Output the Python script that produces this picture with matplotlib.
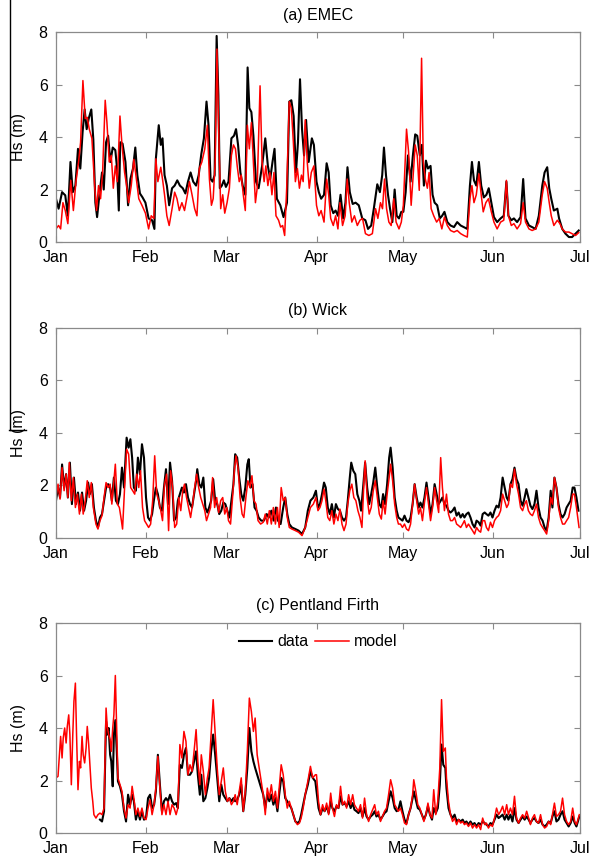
import numpy as np
import pandas as pd
import matplotlib
matplotlib.use('Agg')
import matplotlib.pyplot as plt
import matplotlib.dates as mdates
from matplotlib.lines import Line2D

plt.rcParams['font.family'] = ['Liberation Sans', 'DejaVu Sans']

# Significant wave height (m).
# Times are days since 1 January; each series has its own day list.

# (a) EMEC
emec_data_day = [0, 0.9, 2.1, 3.2, 4.1, 5.0, 5.8, 6.7, 7.6, 8.4, 9.2, 9.9, 10.6, 11.3, 12.2, 12.9, 13.6, 14.2, 15.0, 15.9,
                 16.5, 17.3, 18.0, 18.8, 19.6, 20.5, 21.1, 21.7, 22.2, 23.0, 24.0, 24.9, 25.7, 26.6, 27.4, 28.1, 29.0, 29.9, 30.9, 32.0,
                 33.2, 34.0, 34.5, 35.5, 36.2, 36.8, 37.5, 38.3, 39.1, 40.1, 41.0, 41.9, 42.8, 43.8, 44.7, 45.6, 46.5, 47.4, 48.4, 49.3,
                 50.2, 51.1, 52.0, 52.7, 53.4, 54.1, 54.8, 55.5, 56.1, 56.6, 57.3, 58.0, 58.7, 59.6, 60.6, 61.5, 62.2, 62.9, 63.7, 64.5,
                 65.4, 66.2, 66.8, 67.5, 68.2, 69.1, 70.0, 71.2, 72.3, 73.2, 74.0, 74.8, 75.5, 76.3, 77.5, 78.6, 79.8, 80.6, 81.3, 82.1,
                 82.9, 83.6, 84.3, 85.0, 85.7, 86.4, 87.3, 88.4,
                 89.1, 90.0, 90.8, 91.6, 92.6, 93.5, 94.2, 94.9, 95.8, 96.6, 97.4, 98.3, 99.2, 100.0, 100.7, 101.5, 102.5, 103.5, 104.6, 105.8,
                 106.9, 107.8, 108.9, 109.8, 111.0, 111.9, 112.7, 113.3, 114.0, 114.7, 115.4, 116.2, 117.0, 117.7, 118.5, 119.3, 120.0, 120.8, 121.6, 122.5,
                 123.3, 124.1, 124.8, 125.7, 126.4, 127.1, 127.8, 128.5, 129.4, 130.1, 130.8, 131.7, 132.6, 133.4, 134.2, 135.2, 136.3, 137.5, 138.6, 139.8,
                 140.9, 142.1, 143.0, 143.7, 144.4, 145.2, 146.1, 146.9, 147.8, 148.7, 149.5, 150.4, 151.3, 152.4, 153.6, 154.7, 155.6, 156.3, 157.3, 158.2,
                 159.3, 160.5, 161.4, 162.2, 163.4, 164.5, 165.7, 166.8, 168.0, 168.8, 169.7, 170.4, 171.1, 172.0, 173.2, 173.8, 174.9, 176.0, 177.2, 178.3,
                 179.5, 180.6]
emec_data = [1.65, 1.27, 1.9, 1.78, 1.0, 3.05, 1.9, 2.15, 3.55, 2.8, 4.2, 5.05, 4.3, 4.7, 5.05, 3.9, 1.5, 0.95, 1.8, 2.65,
             2.0, 3.8, 4.05, 3.05, 3.6, 3.5, 2.8, 1.2, 3.8, 3.75, 3.05, 1.4, 2.4, 2.8, 3.6, 2.55, 1.85, 1.7, 1.5, 0.9,
             0.83, 0.5, 3.17, 4.45, 3.7, 3.95, 2.55, 2.15, 1.4, 2.05, 2.15, 2.35, 2.15, 2.05, 1.85, 2.3, 2.65, 2.3, 2.15, 2.55,
             3.35, 3.95, 5.35, 4.45, 2.4, 2.3, 2.55, 7.85, 5.6, 2.05, 2.15, 2.35, 2.1, 2.3, 3.95, 4.05, 4.3, 3.7, 2.65, 2.15,
             1.8, 6.65, 5.1, 4.95, 4.05, 2.3, 2.05, 2.9, 3.95, 2.9, 2.4, 3.05, 3.55, 1.65, 1.4, 0.95, 1.5, 5.35, 5.4, 4.8,
             2.65, 3.8, 6.2, 4.3, 3.3, 4.65, 3.05, 3.95,
             3.7, 2.3, 1.9, 1.65, 1.8, 3.0, 2.65, 1.4, 1.1, 1.2, 1.0, 1.8, 0.9, 1.5, 2.85, 1.9, 1.45, 1.5, 1.4, 0.9,
             0.83, 0.5, 0.63, 1.27, 2.2, 1.9, 2.55, 3.6, 2.55, 1.8, 1.27, 0.76, 2.0, 1.0, 0.9, 1.15, 1.15, 1.9, 3.3, 2.3,
             3.3, 4.1, 4.05, 3.3, 3.7, 2.15, 3.1, 2.8, 2.9, 1.8, 1.5, 1.4, 0.9, 1.0, 1.15, 0.76, 0.63, 0.57, 0.76, 0.63,
             0.57, 0.5, 2.15, 3.05, 2.35, 2.15, 3.05, 2.15, 1.7, 1.8, 2.05, 1.5, 0.95, 0.76, 0.9, 1.0, 2.3, 1.0, 0.83, 0.9,
             0.76, 0.95, 2.4, 0.9, 0.63, 0.57, 0.5, 1.0, 2.15, 2.65, 2.85, 2.05, 1.65, 1.2, 1.27, 0.9, 0.5, 0.32, 0.19, 0.19,
             0.32, 0.44]

emec_model_day = [0, 0.9, 1.6, 2.4, 3.2, 4.1, 5.1, 6.0, 6.9, 7.8, 8.5, 9.3, 10.1, 10.8, 11.5, 12.4, 13.4, 14.0, 14.7, 15.4,
                  16.1, 17.0, 17.6, 18.4, 19.1, 19.8, 20.5, 21.2, 22.1, 22.8, 23.7, 24.4, 25.1, 26.0, 26.9, 27.6, 28.6, 29.7, 30.9, 32.0,
                  32.9, 33.8, 34.5, 35.2, 36.2, 36.8, 37.5, 38.3, 39.1, 40.1, 41.0, 41.8, 42.6, 43.5, 44.4, 45.4, 46.1, 47.0, 47.9, 48.7,
                  49.5, 50.4, 51.4, 52.3, 53.0, 53.7, 54.3, 55.0, 55.6, 56.2, 56.9, 57.6, 58.3, 59.1, 59.9, 60.6, 61.3, 62.0, 62.6, 63.3,
                  64.0, 64.7, 65.4, 66.1, 66.8, 67.5, 68.2, 68.9, 69.5, 70.5, 71.2, 71.9, 72.5, 73.2, 73.9, 74.6, 75.3, 76.0, 76.9, 77.6,
                  78.3, 79.0, 79.7, 80.6, 81.3, 82.0, 82.7, 83.4, 84.1, 84.8, 85.4, 86.1, 86.8, 87.5, 88.2,
                  89.1, 90.0, 90.8, 91.6, 92.6, 93.5, 94.2, 94.9, 95.8, 96.6, 97.4, 98.1, 99.0, 99.9, 100.6, 101.3, 102.2, 103.1, 104.1, 105.0,
                  105.9, 106.9, 108.1, 109.3, 110.4, 111.2, 112.1, 112.8, 113.5, 114.2, 115.0, 115.8, 116.7, 117.5, 118.5, 119.3, 120.0, 121.1, 121.8, 122.7,
                  123.4, 124.1, 124.8, 125.5, 126.3, 126.9, 127.6, 128.3, 128.9, 129.6, 130.5, 131.5, 132.4, 133.3, 134.2, 135.2, 136.3, 137.5, 138.6, 139.8,
                  140.9, 142.1, 143.0, 143.7, 144.4, 145.2, 146.1, 146.9, 147.6, 148.5, 149.4, 150.4, 151.3, 152.4, 153.6, 154.7, 155.6, 156.3, 157.3, 158.2,
                  159.3, 160.5, 161.4, 162.2, 163.4, 164.5, 165.7, 166.8, 168.0, 168.8, 169.7, 170.4, 171.1, 172.0, 173.2, 174.1, 174.9, 176.0, 177.2, 178.3,
                  179.5, 180.6]
emec_model = [0.5, 0.63, 0.5, 1.5, 1.2, 0.7, 2.35, 1.2, 2.3, 3.05, 3.8, 6.15, 4.7, 4.75, 4.3, 3.95, 2.05, 1.2, 2.15, 1.65,
              2.65, 5.4, 4.55, 3.05, 3.3, 2.05, 2.9, 2.3, 4.8, 3.7, 2.65, 2.15, 1.5, 2.15, 3.15, 2.55, 1.65, 1.4, 1.1, 0.5,
              1.0, 0.9, 3.17, 2.3, 2.85, 2.4, 1.8, 1.0, 0.63, 1.27, 1.9, 1.65, 1.2, 1.5, 1.2, 1.8, 2.3, 1.8, 1.27, 1.0,
              2.8, 3.05, 3.55, 4.45, 2.4, 1.4, 1.65, 3.05, 7.35, 4.3, 1.27, 1.8, 1.1, 1.5, 2.05, 3.3, 3.7, 3.55, 2.9, 2.3,
              2.55, 1.8, 1.2, 4.45, 3.55, 4.55, 3.05, 1.5, 2.05, 5.95, 3.05, 2.3, 2.9, 2.15, 2.65, 1.8, 2.65, 1.0, 0.83, 0.57,
              0.63, 0.25, 2.05, 5.35, 5.1, 3.8, 2.3, 2.8, 2.05, 2.55, 2.3, 4.65, 3.05, 2.05, 2.65,
              2.9, 1.4, 1.0, 1.2, 0.76, 2.4, 1.8, 0.9, 0.63, 1.0, 0.5, 1.5, 0.63, 1.0, 2.4, 1.5, 0.76, 1.0, 0.63, 0.83,
              0.9, 0.32, 0.25, 0.32, 1.27, 0.9, 1.5, 1.27, 2.4, 1.27, 0.76, 0.63, 1.65, 0.76, 0.5, 0.76, 1.4, 4.3, 3.45, 1.4,
              2.55, 3.7, 3.3, 1.97, 7.0, 3.05, 2.4, 2.05, 2.65, 1.27, 1.0, 0.76, 0.9, 0.5, 0.95, 0.63, 0.44, 0.38, 0.44, 0.32,
              0.25, 0.19, 1.65, 2.15, 1.5, 1.8, 2.6, 1.8, 1.15, 1.5, 1.65, 1.15, 0.76, 0.5, 0.76, 0.83, 2.35, 1.0, 0.63, 0.7,
              0.5, 0.7, 1.5, 0.76, 0.5, 0.44, 0.5, 0.76, 1.8, 2.3, 2.05, 1.5, 1.0, 0.63, 0.83, 0.7, 0.5, 0.38, 0.38, 0.32,
              0.25, 0.36]

# (b) Wick
wick_data_day = [0, 0.7, 1.4, 2.1, 2.8, 3.5, 4.1, 4.8, 5.5, 6.2, 6.9, 7.6, 8.3, 9.0, 9.7, 10.4, 11.1, 11.7, 12.4, 13.1,
                 13.8, 14.5, 15.2, 15.9, 16.6, 17.3, 18.0, 18.7, 19.3, 20.0, 20.7, 21.4, 22.1, 22.8, 23.5, 24.4, 25.1, 25.7, 26.3, 26.9,
                 27.6, 28.3, 29.0, 29.7, 30.4, 31.1, 31.8, 32.5, 33.2, 33.8, 34.5, 35.2, 35.9, 36.6, 37.3, 38.0, 38.7, 39.4, 40.1, 40.8,
                 41.5, 42.1, 42.8, 43.5, 44.2, 44.9, 45.6, 46.3, 47.0, 47.7, 48.4, 48.8, 49.5, 50.2, 50.9, 51.6, 52.3, 52.9, 53.6, 54.3,
                 55.0, 55.7, 56.4, 57.1, 57.8, 58.5, 59.2, 59.9, 60.6, 61.3, 61.9, 62.6, 63.3, 64.0, 64.7, 65.4, 66.1, 66.6, 67.2, 67.9,
                 68.6, 69.3, 70.0, 70.9, 71.8, 72.8, 73.5, 74.4, 75.2, 76.0, 76.7, 77.6, 78.5, 79.2, 79.9, 80.6, 81.5, 82.7, 83.8, 85.0,
                 86.1, 87.0, 87.9, 88.9, 89.8,
                 90.5, 91.2, 91.9, 92.6, 93.2, 93.9, 94.6, 95.3, 96.0, 96.7, 97.4, 98.1, 98.8, 99.5, 100.2, 100.8, 101.5, 102.0, 102.7, 103.4,
                 104.1, 104.8, 105.4, 106.1, 106.8, 107.5, 108.2, 108.9, 109.6, 110.3, 111.0, 111.7, 112.4, 113.0, 113.7, 114.4, 115.1, 115.6, 116.3, 117.0,
                 117.7, 118.3, 119.0, 119.7, 120.4, 121.1, 121.8, 122.5, 123.2, 123.9, 124.6, 125.3, 125.9, 126.6, 127.3, 128.0, 128.7, 129.4, 130.1, 130.8,
                 131.5, 132.2, 132.9, 133.5, 134.2, 134.9, 135.6, 136.3, 137.0, 137.7, 138.4, 139.1, 139.8, 140.5, 141.1, 141.8, 142.5, 143.2, 143.9, 144.6,
                 145.3, 146.0, 146.7, 147.4, 148.1, 148.7, 149.4, 150.1, 150.8, 151.5, 152.2, 152.9, 153.6, 154.3, 155.0, 155.7, 156.3, 157.0, 157.7, 158.4,
                 159.1, 159.8, 160.5, 161.2, 161.9, 162.5, 163.2, 163.9, 164.6, 165.3, 166.0, 166.7, 167.4, 168.1, 168.8, 169.5, 170.2, 170.9, 171.5, 172.2,
                 172.9, 173.6, 174.3, 175.0, 175.7, 176.4, 177.1, 177.8, 178.5, 179.1, 179.8, 180.5]
wick_data = [1.42, 1.92, 1.54, 2.8, 1.92, 2.43, 1.54, 2.87, 1.29, 2.3, 1.29, 1.73, 1.04, 1.73, 1.04, 1.42, 2.11, 1.67, 2.05, 1.16,
             0.66, 0.4, 0.78, 0.91, 1.42, 1.92, 2.05, 1.92, 1.42, 2.3, 1.42, 1.29, 1.67, 2.68, 1.92, 3.82, 3.44, 3.76, 3.06, 1.92,
             1.8, 3.06, 2.43, 3.57, 3.06, 1.54, 0.78, 0.66, 0.91, 1.42, 1.92, 1.67, 1.16, 1.04, 1.92, 2.62, 1.29, 2.87, 2.18, 0.66,
             0.78, 1.42, 1.67, 1.92, 1.73, 2.05, 1.54, 1.29, 1.16, 1.67, 2.18, 2.62, 2.05, 1.92, 2.3, 1.16, 0.97, 1.16, 1.42, 2.24,
             1.42, 1.29, 0.91, 1.04, 1.35, 1.29, 1.04, 0.78, 1.42, 2.05, 3.19, 3.06, 2.3, 1.67, 1.42, 1.92, 2.8, 3.0, 1.92, 2.05,
             1.16, 1.04, 0.78, 0.66, 0.66, 0.91, 0.78, 1.04, 0.66, 1.16, 0.66, 0.53, 1.16, 1.54, 0.91, 0.53, 0.4, 0.34, 0.28, 0.15,
             0.4, 1.04, 1.42, 1.54, 1.8,
             1.16, 1.29, 1.67, 2.11, 1.92, 1.16, 0.91, 1.29, 0.78, 1.29, 1.1, 1.04, 0.78, 0.66, 0.78, 1.42, 2.3, 2.87, 2.56, 2.43,
             1.67, 1.42, 1.04, 1.92, 2.87, 1.92, 1.29, 1.67, 2.11, 2.68, 1.92, 1.29, 1.16, 1.67, 1.29, 2.05, 3.06, 3.44, 2.68, 1.54,
             1.04, 0.78, 0.72, 0.66, 0.85, 0.66, 0.6, 0.78, 1.29, 2.05, 1.54, 1.16, 1.35, 1.16, 1.54, 2.11, 1.54, 0.91, 1.29, 2.05,
             1.67, 1.29, 1.42, 1.54, 1.29, 1.23, 1.04, 0.97, 1.04, 1.16, 0.85, 0.97, 0.78, 0.91, 0.78, 0.91, 0.97, 0.78, 0.53, 0.4,
             0.66, 0.6, 0.47, 0.91, 0.97, 0.91, 0.85, 0.97, 0.78, 1.04, 1.23, 1.16, 1.54, 2.3, 1.92, 1.54, 1.42, 2.05, 2.24, 2.68,
             2.24, 2.05, 1.42, 1.23, 1.54, 1.86, 1.54, 1.23, 1.1, 1.29, 1.8, 1.16, 0.78, 0.66, 0.4, 0.28, 0.78, 1.8, 1.16, 2.3,
             1.92, 1.29, 0.91, 0.78, 0.91, 1.16, 1.29, 1.42, 1.92, 1.92, 1.54, 1.04]

wick_model_day = [0, 0.7, 1.4, 2.1, 2.8, 3.5, 4.1, 4.6, 5.3, 6.0, 6.7, 7.4, 8.1, 8.8, 9.4, 10.1, 10.8, 11.5, 12.2, 12.9,
                  13.8, 14.5, 15.2, 15.9, 16.6, 17.3, 18.0, 18.7, 19.3, 20.0, 20.5, 21.2, 21.9, 22.6, 23.0, 23.7, 24.4, 25.1, 25.8, 26.5,
                  27.2, 27.9, 28.6, 29.2, 29.9, 30.6, 31.3, 32.0, 32.7, 33.4, 34.1, 34.8, 35.5, 36.2, 36.8, 37.5, 38.2, 38.9, 39.6, 40.3,
                  41.0, 41.7, 42.4, 43.1, 43.8, 44.4, 45.1, 45.8, 46.5, 47.2, 47.9, 48.6, 49.3, 50.0, 50.7, 51.4, 52.0, 52.7, 53.4, 54.1,
                  54.8, 55.5, 56.2, 56.9, 57.6, 58.3, 59.0, 59.6, 60.3, 61.0, 61.7, 62.2, 62.9, 63.6, 64.3, 64.9, 65.6, 66.3, 67.0, 67.7,
                  68.4, 69.1, 69.8, 70.7, 71.6, 72.3, 73.0, 73.7, 74.4, 75.1, 75.8, 76.5, 77.1, 77.8, 78.5, 79.2, 79.9, 80.6, 81.5, 82.7,
                  83.8, 85.0, 86.1, 87.0, 87.9, 88.9, 89.8,
                  90.5, 91.2, 91.9, 92.6, 93.2, 93.9, 94.6, 95.3, 96.0, 96.7, 97.4, 98.1, 98.8, 99.5, 100.2, 100.8, 101.5, 102.2, 102.9, 103.6,
                  104.3, 105.0, 105.7, 106.4, 106.8, 107.5, 108.2, 108.9, 109.6, 110.3, 111.0, 111.7, 112.4, 113.0, 113.7, 114.4, 115.1, 115.6, 116.3, 117.0,
                  117.7, 118.3, 119.0, 119.7, 120.4, 121.1, 121.8, 122.5, 123.2, 123.9, 124.6, 125.3, 125.9, 126.6, 127.3, 128.0, 128.7, 129.4, 130.1, 130.8,
                  131.5, 132.2, 132.9, 133.5, 134.2, 134.9, 135.6, 136.3, 137.0, 137.7, 138.4, 139.1, 139.8, 140.5, 141.1, 141.8, 142.5, 143.2, 143.9, 144.6,
                  145.3, 146.0, 146.7, 147.4, 148.1, 148.7, 149.4, 150.1, 150.8, 151.5, 152.2, 152.9, 153.6, 154.3, 155.0, 155.7, 156.3, 157.0, 157.7, 158.4,
                  159.1, 159.8, 160.5, 161.2, 161.9, 162.5, 163.2, 163.9, 164.6, 165.3, 166.0, 166.7, 167.4, 168.1, 168.8, 169.5, 170.2, 170.9, 171.5, 172.2,
                  172.9, 173.6, 174.3, 175.0, 175.7, 176.4, 177.1, 177.8, 178.5, 179.1, 179.8, 180.7]
wick_model = [1.54, 2.05, 1.48, 2.68, 1.8, 2.43, 1.54, 2.87, 1.42, 2.3, 1.16, 1.67, 0.91, 1.67, 0.91, 1.42, 2.18, 1.54, 2.11, 1.16,
              0.53, 0.34, 0.66, 0.85, 1.54, 2.11, 1.92, 2.05, 1.29, 2.18, 2.81, 1.29, 1.16, 0.66, 0.34, 1.92, 3.38, 3.19, 1.92, 1.8,
              1.67, 2.43, 1.92, 2.56, 1.16, 0.66, 0.53, 0.4, 0.53, 1.42, 3.13, 1.67, 1.42, 1.04, 0.66, 2.05, 2.43, 0.28, 2.56, 1.92,
              0.4, 0.53, 1.54, 1.04, 1.8, 2.05, 1.54, 1.16, 0.78, 1.29, 1.92, 2.43, 1.92, 1.54, 1.29, 1.04, 0.66, 0.91, 1.16, 2.3,
              1.16, 1.54, 0.97, 1.42, 1.54, 0.91, 1.16, 0.66, 0.53, 1.54, 2.68, 3.13, 2.68, 1.54, 0.91, 0.78, 1.54, 2.18, 1.92, 2.37,
              1.42, 1.29, 0.66, 0.53, 0.6, 0.91, 0.53, 1.04, 0.53, 1.16, 0.53, 1.16, 0.4, 1.92, 1.42, 1.54, 0.78, 0.4, 0.34, 0.28,
              0.22, 0.09, 0.4, 0.78, 1.16, 1.29, 1.54,
              1.04, 1.16, 1.42, 1.86, 1.42, 0.78, 0.66, 1.04, 0.53, 0.91, 0.66, 1.1, 0.53, 0.28, 0.53, 1.29, 1.8, 2.05, 1.54, 1.42,
              1.04, 0.78, 0.4, 2.18, 2.94, 1.54, 0.91, 1.16, 1.8, 2.18, 1.54, 0.91, 0.72, 1.42, 0.91, 1.67, 2.3, 2.81, 2.18, 1.29,
              0.78, 0.53, 0.53, 0.4, 0.53, 0.34, 0.28, 0.53, 1.29, 2.05, 1.42, 0.91, 1.16, 0.66, 1.35, 1.92, 1.29, 0.66, 1.16, 1.92,
              1.42, 0.97, 3.06, 1.92, 1.04, 1.67, 0.91, 0.66, 0.66, 0.78, 0.53, 0.47, 0.4, 0.53, 0.66, 0.4, 0.53, 0.4, 0.28, 0.15,
              0.4, 0.28, 0.22, 0.66, 0.66, 0.4, 0.28, 0.6, 0.4, 0.66, 0.78, 0.85, 1.04, 1.67, 1.42, 1.16, 1.29, 2.05, 1.92, 2.62,
              2.05, 1.67, 1.16, 1.04, 1.29, 1.42, 1.04, 0.91, 0.85, 1.04, 1.29, 0.78, 0.53, 0.4, 0.28, 0.15, 0.66, 1.54, 1.29, 2.3,
              1.92, 1.16, 0.78, 0.53, 0.53, 0.66, 0.78, 1.16, 1.67, 1.67, 1.16, 0.4]

# (c) Pentland Firth (no measurements before mid-January)
pf_data_day = [15.2, 15.9, 16.6, 17.3, 17.7, 18.2, 18.7, 19.1, 19.6, 20.0, 20.5, 21.0, 21.4, 22.1, 22.8, 23.5, 24.2, 24.9, 25.6, 26.3,
               26.9, 27.6, 28.3, 29.0, 29.7, 30.4, 31.1, 31.8, 32.5, 33.2, 33.9, 34.5, 35.2, 35.9, 36.6, 37.3, 38.0, 38.7, 39.4, 40.1,
               40.8, 41.5, 42.1, 42.8, 43.5, 44.2, 44.9, 45.6, 46.3, 47.0, 47.7, 48.4, 49.0, 49.7, 50.2, 50.9, 51.6, 52.3, 52.9, 53.6,
               54.3, 55.0, 55.7, 56.4, 57.1, 57.8, 58.5, 59.2, 59.9, 60.6, 61.3, 61.9, 62.6, 63.3, 64.0, 64.7, 65.4, 66.1, 66.8, 67.5,
               68.2, 68.8, 69.5, 70.2, 70.9, 71.6, 72.3, 73.0, 73.7, 74.4, 75.1, 75.8, 76.5, 77.1, 77.8, 78.5, 79.2, 79.9, 80.6, 81.3,
               82.0, 82.7, 83.4, 84.1, 84.7, 85.4, 86.1, 87.0, 87.9, 88.7, 89.6,
               90.7, 91.4, 92.1, 92.8, 93.5, 94.2, 94.9, 95.5, 96.2, 96.9, 97.6, 98.3, 99.0, 99.7, 100.4, 101.1, 101.8, 102.5, 103.1, 103.8,
               104.5, 105.2, 105.9, 106.6, 107.3, 108.0, 108.7, 109.4, 110.1, 110.7, 111.4, 112.1, 112.8, 113.5, 114.2, 114.9, 115.6, 116.3, 117.0, 117.7,
               118.3, 119.0, 119.7, 120.4, 121.1, 121.8, 122.5, 123.2, 123.6, 124.3, 125.0, 125.7, 126.4, 127.1, 127.8, 128.5, 129.2, 129.9, 130.5, 131.2,
               131.9, 132.6, 133.2, 133.8, 134.5, 134.9, 135.6, 136.3, 137.0, 137.7, 138.4, 139.1, 139.8, 140.5, 141.1, 141.8, 142.5, 143.2, 143.9, 144.6,
               145.3, 146.0, 146.7, 147.4, 148.1, 148.7, 149.4, 150.1, 150.8, 151.5, 152.2, 152.9, 153.6, 154.3, 155.0, 155.7, 156.3, 157.0, 157.7, 158.4,
               159.1, 159.8, 160.5, 161.2, 161.9, 162.6, 163.3, 163.9, 164.6, 165.3, 166.0, 166.7, 167.4, 168.1, 168.8, 169.5, 170.2, 170.9, 171.5, 172.2,
               172.9, 173.6, 174.3, 175.0, 175.7, 176.4, 177.1, 177.8, 178.5, 179.2, 179.8, 180.8]
pf_data = [0.51, 0.44, 0.83, 4.25, 3.75, 4.0, 2.98, 2.73, 1.78, 3.75, 4.3, 3.11, 1.97, 1.78, 1.46, 0.83, 0.44, 1.46, 1.08, 1.46,
           1.21, 0.51, 0.83, 0.51, 0.83, 0.51, 0.57, 1.33, 1.46, 0.95, 1.08, 1.59, 2.98, 1.84, 0.83, 1.21, 1.33, 1.21, 1.46, 1.21,
           1.08, 1.14, 0.95, 2.6, 2.48, 2.98, 3.24, 2.22, 2.22, 2.35, 2.73, 3.11, 2.22, 1.46, 2.22, 1.21, 1.33, 1.71, 2.1, 3.11,
           3.75, 2.98, 2.1, 1.21, 1.84, 1.46, 1.33, 1.21, 1.33, 1.21, 1.33, 1.21, 1.27, 1.46, 1.84, 0.83, 1.46, 2.48, 4.0, 3.11,
           2.73, 2.48, 2.22, 1.97, 1.71, 1.46, 0.95, 1.46, 1.21, 1.46, 1.08, 1.33, 0.83, 1.46, 2.1, 1.97, 1.33, 1.21, 1.08, 0.95,
           0.7, 0.44, 0.38, 0.44, 0.7, 1.08, 1.46, 1.84, 2.35, 2.1, 1.97,
           0.95, 0.7, 0.95, 0.83, 1.02, 0.76, 1.21, 0.95, 0.83, 1.02, 0.95, 1.4, 1.08, 1.14, 1.02, 1.21, 0.95, 1.14, 0.89, 0.83,
           0.76, 0.95, 0.63, 0.95, 0.63, 0.51, 0.63, 0.7, 0.83, 0.63, 0.7, 0.51, 0.63, 0.76, 0.83, 1.21, 1.59, 1.33, 0.95, 0.83,
           0.89, 1.21, 0.83, 0.51, 0.38, 0.7, 0.95, 1.33, 1.59, 1.27, 0.95, 0.89, 0.7, 0.51, 0.7, 1.02, 0.7, 0.51, 0.95, 0.76,
           0.95, 1.84, 3.37, 2.6, 2.48, 1.71, 0.95, 0.7, 0.57, 0.7, 0.44, 0.51, 0.44, 0.51, 0.38, 0.44, 0.32, 0.44, 0.32, 0.38,
           0.25, 0.38, 0.32, 0.44, 0.38, 0.32, 0.25, 0.38, 0.32, 0.51, 0.7, 0.57, 0.63, 0.7, 0.51, 0.7, 0.51, 0.7, 0.44, 0.95,
           0.51, 0.38, 0.51, 0.63, 0.51, 0.63, 0.51, 0.38, 0.51, 0.57, 0.44, 0.38, 0.51, 0.32, 0.25, 0.32, 0.44, 0.38, 0.63, 0.83,
           0.44, 0.51, 0.7, 0.83, 0.51, 0.38, 0.25, 0.38, 0.63, 0.38, 0.25, 0.63]

pf_model_day = [0, 0.7, 1.2, 1.6, 2.1, 2.5, 3.0, 3.5, 3.9, 4.4, 4.8, 5.3, 5.8, 6.2, 6.7, 7.1, 7.6, 8.1, 8.5, 9.0,
                9.4, 9.9, 10.4, 10.8, 11.3, 11.7, 12.2, 12.7, 13.1, 13.8, 14.5, 15.2, 15.9, 16.6, 17.3, 17.7, 18.2, 18.7, 19.1, 19.6,
                20.0, 20.5, 21.0, 21.4, 22.1, 22.8, 23.5, 24.2, 24.9, 25.6, 26.3, 26.9, 27.6, 28.3, 29.0, 29.7, 30.4, 31.1, 31.8, 32.5,
                33.2, 33.9, 34.5, 35.2, 35.9, 36.6, 37.3, 38.0, 38.7, 39.4, 40.1, 40.8, 41.5, 42.1, 42.8, 43.5, 44.2, 44.9, 45.6, 46.3,
                47.0, 47.7, 48.4, 49.0, 49.7, 50.2, 50.9, 51.6, 52.3, 52.9, 53.6, 54.3, 55.0, 55.7, 56.4, 57.1, 57.8, 58.5, 59.2, 59.9,
                60.6, 61.3, 61.9, 62.6, 63.3, 64.0, 64.7, 65.4, 66.1, 66.8, 67.5, 68.2, 68.8, 69.5, 70.2, 70.9, 71.6, 72.3, 73.0, 73.7,
                74.4, 75.1, 75.8, 76.5, 77.1, 77.8, 78.5, 79.2, 79.9, 80.6, 81.3, 82.0, 82.7, 83.4, 84.1, 84.7, 85.4, 86.1, 87.0, 87.9,
                88.7, 89.6,
                90.0, 90.7, 91.4, 92.1, 92.8, 93.5, 94.2, 94.9, 95.5, 96.2, 96.9, 97.6, 98.3, 99.0, 99.7, 100.4, 101.1, 101.8, 102.5, 103.1,
                103.8, 104.5, 105.2, 105.9, 106.6, 107.3, 108.0, 108.7, 109.4, 110.1, 110.7, 111.4, 112.1, 112.8, 113.5, 114.2, 114.9, 115.6, 116.3, 117.0,
                117.7, 118.3, 119.0, 119.7, 120.4, 121.1, 121.8, 122.5, 123.2, 123.6, 124.3, 125.0, 125.7, 126.4, 127.1, 127.8, 128.5, 129.2, 129.9, 130.5,
                131.2, 131.9, 132.6, 133.2, 133.8, 134.5, 134.9, 135.6, 136.3, 137.0, 137.7, 138.4, 139.1, 139.8, 140.5, 141.1, 141.8, 142.5, 143.2, 143.9,
                144.6, 145.3, 146.0, 146.7, 147.4, 148.1, 148.7, 149.4, 150.1, 150.8, 151.5, 152.2, 152.9, 153.6, 154.3, 155.0, 155.7, 156.3, 157.0, 157.7,
                158.4, 159.1, 159.8, 160.5, 161.2, 161.9, 162.6, 163.3, 163.9, 164.6, 165.3, 166.0, 166.7, 167.4, 168.1, 168.8, 169.5, 170.2, 170.9, 171.5,
                172.2, 172.9, 173.6, 174.3, 175.0, 175.7, 176.4, 177.1, 177.8, 178.5, 179.2, 179.8, 180.8]
pf_model = [2.1, 2.16, 2.98, 3.68, 2.86, 3.62, 4.0, 3.43, 4.06, 4.5, 3.75, 1.84, 3.75, 5.02, 5.71, 3.75, 1.65, 2.73, 2.48, 3.68,
            2.98, 2.67, 3.24, 4.06, 3.37, 2.6, 1.71, 1.21, 0.7, 0.57, 0.7, 0.76, 0.7, 0.95, 4.76, 4.06, 3.75, 3.56, 3.11, 4.0,
            4.5, 6.0, 3.75, 2.1, 1.84, 1.59, 0.95, 0.57, 1.08, 0.95, 1.78, 1.33, 0.7, 0.95, 0.63, 0.95, 0.57, 0.51, 0.95, 1.27,
            0.7, 1.08, 1.71, 2.92, 1.71, 0.7, 1.08, 0.7, 1.21, 0.7, 1.08, 0.95, 0.7, 0.95, 3.37, 2.86, 3.87, 3.49, 2.22, 2.6,
            2.35, 3.11, 3.94, 2.73, 1.84, 2.98, 2.35, 1.46, 2.1, 2.48, 3.75, 5.08, 3.75, 2.48, 1.46, 1.97, 2.48, 1.59, 1.21, 1.33,
            1.08, 1.21, 1.46, 1.08, 1.59, 2.1, 0.83, 1.59, 3.11, 5.14, 4.63, 3.87, 4.38, 2.98, 2.48, 1.97, 1.46, 0.7, 1.71, 1.33,
            1.84, 1.21, 1.59, 0.95, 1.71, 2.6, 2.22, 1.46, 0.95, 1.21, 0.95, 0.7, 0.44, 0.32, 0.38, 0.57, 0.95, 1.46, 1.97, 2.54,
            2.1, 2.22,
            2.22, 1.21, 0.7, 1.08, 0.83, 1.14, 0.7, 1.52, 0.95, 0.63, 1.08, 0.95, 1.78, 1.08, 1.21, 0.95, 1.46, 1.08, 1.46, 1.08,
            0.95, 0.83, 1.08, 0.57, 1.33, 0.7, 0.44, 0.7, 0.89, 1.08, 0.7, 0.83, 0.44, 0.63, 0.83, 0.95, 1.46, 2.03, 1.71, 1.08,
            0.95, 0.83, 0.95, 0.7, 0.38, 0.32, 0.7, 0.95, 1.46, 2.03, 1.59, 1.08, 0.95, 0.7, 0.44, 0.7, 1.14, 0.7, 0.57, 1.65,
            0.7, 1.21, 2.48, 5.08, 3.11, 3.24, 2.1, 1.21, 0.7, 0.44, 0.57, 0.32, 0.51, 0.38, 0.44, 0.32, 0.38, 0.25, 0.38, 0.19,
            0.32, 0.19, 0.32, 0.13, 0.57, 0.32, 0.38, 0.19, 0.32, 0.25, 0.57, 0.95, 0.7, 0.83, 1.02, 0.7, 1.08, 0.7, 0.95, 0.7,
            1.4, 0.57, 0.38, 0.57, 0.7, 0.57, 0.83, 0.57, 0.32, 0.57, 0.7, 0.44, 0.38, 0.7, 0.32, 0.19, 0.25, 0.44, 0.32, 0.7,
            1.14, 0.63, 0.7, 0.83, 1.33, 0.7, 0.44, 0.32, 0.44, 0.95, 0.44, 0.32, 0.7]

panels = [
    ('(a) EMEC', emec_data_day, emec_data, emec_model_day, emec_model),
    ('(b) Wick', wick_data_day, wick_data, wick_model_day, wick_model),
    ('(c) Pentland Firth', pf_data_day, pf_data, pf_model_day, pf_model),
]

start = pd.Timestamp('2013-01-01')
end = pd.Timestamp('2013-07-01')


def to_time(days):
    return start + pd.to_timedelta(np.asarray(days), unit='D')


frame_col = '#8a8a8a'
fs = 11.5

fig = plt.figure(figsize=(5.9, 8.58), dpi=100)
bottoms = [0.7179, 0.3730, 0.0291]

for (title, d_day, d_val, m_day, m_val), b in zip(panels, bottoms):
    assert len(d_day) == len(d_val), (title, 'data', len(d_day), len(d_val))
    assert len(m_day) == len(m_val), (title, 'model', len(m_day), len(m_val))
    ax = fig.add_axes([0.0949, b, 0.888, 0.2448])
    ax.plot(to_time(d_day), d_val, color='black', lw=1.5, label='data')
    ax.plot(to_time(m_day), m_val, color='#ff0000', lw=1.1, label='model')

    ax.set_xlim(start, end)
    ax.set_ylim(0, 8)
    ax.set_yticks([0, 2, 4, 6, 8])
    ax.xaxis.set_major_locator(mdates.MonthLocator())
    ax.xaxis.set_major_formatter(mdates.DateFormatter('%b'))

    for sp in ax.spines.values():
        sp.set_color(frame_col)
        sp.set_linewidth(0.9)
    ax.tick_params(direction='in', top=True, right=True, length=4, width=0.8,
                   color=frame_col, labelsize=fs, labelcolor='black')
    ax.tick_params(axis='x', pad=5.5)
    ax.tick_params(axis='y', pad=6)

    ax.set_title(title, fontsize=fs, pad=9)
    ax.set_ylabel('Hs (m)', fontsize=fs)
    ax.yaxis.set_label_coords(-0.057, 0.5)

    if title.startswith('(c)'):
        ax.legend(loc='upper center', bbox_to_anchor=(0.5, 1.0), ncol=2, frameon=False,
                  fontsize=fs, handlelength=2.1, handletextpad=0.3, columnspacing=0.45,
                  borderaxespad=0.3)

# stray rule along the left edge of the source figure
fig.add_artist(Line2D([10 / 590, 10 / 590], [1.0, 1 - 430 / 858], transform=fig.transFigure,
                      color='black', lw=1.0))
fig.add_artist(Line2D([9 / 590, 26 / 590], [1 - 430 / 858, 1 - 430 / 858], transform=fig.transFigure,
                      color='black', lw=1.0))

fig.savefig('out.png', dpi=100)
